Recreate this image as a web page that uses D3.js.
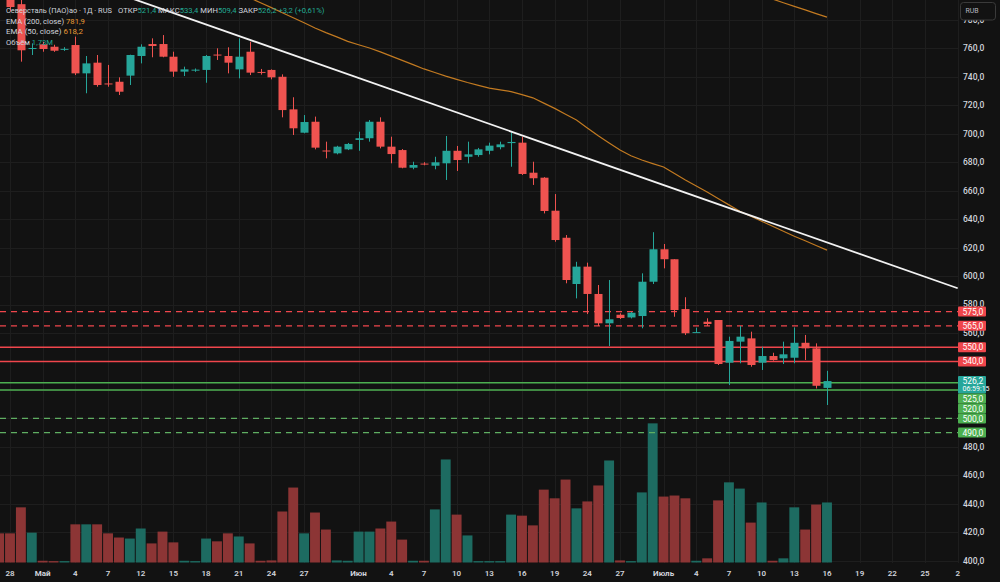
<!DOCTYPE html>
<html>
<head>
<meta charset="utf-8">
<script src="https://cdn.jsdelivr.net/npm/d3@7"></script>
<style>
  html, body { margin: 0; padding: 0; background: #121212; }
  svg { display: block; font-family: Roboto, "Noto Sans", sans-serif; }
  text { white-space: pre; }
</style>
</head>
<body>
<script>
// daily bars, index 0 = 27 Apr (only partly on screen)
const opens  = [812, 803, 791, 759.6, 762.8, 761.1, 759.2, 762.3, 742.4, 749.9, 735.3,
                736.5, 740.8, 754.6, 763, 763, 754.1, 743.6, 744.6, 744.8, 755.6,
                754.6, 745.2, 757.6, 743.4, 744.8, 740, 717.1, 700.7, 708.4, 688.2,
                686.2, 689, 695.6, 696.8, 708.4, 690.9, 688.5, 676.1, 679, 677.5,
                679.2, 688, 683.8, 685, 688, 690.5, 693.4, 693.7, 672.6, 669.1,
                645.9, 626.9, 594.4, 606.6, 587.4, 566.8, 572.8, 570.9, 571.9, 596,
                618.8, 611.8, 576.8, 560.2, 567.9, 569.1, 539.1, 553.9, 556.2, 539.1,
                543.8, 542.2, 542.6, 553.1, 549.2, 521.4];
const highs  = [816, 808, 794, 763.5, 764.6, 762.5, 760.8, 768.2, 754.6, 755.3, 748.3,
                739.6, 755.5, 762.8, 767, 769.3, 757.6, 747.1, 745.8, 755.3, 760,
                760.7, 767, 764.6, 745.5, 745.2, 741.7, 725.6, 713.1, 712, 694.4,
                691.5, 693.5, 701.4, 709.6, 711.5, 697.9, 689.2, 680.3, 680, 683.8,
                698.4, 691.4, 694.4, 690, 693.7, 694.4, 701, 697.9, 680.3, 669.5,
                657.6, 628.8, 610, 609.4, 593.7, 597.2, 573.8, 574.8, 601.9, 630.8,
                622.5, 611.8, 585.1, 563.7, 570.3, 569.1, 557.4, 564.9, 560.9, 550.3,
                546.1, 553.9, 563.9, 558.6, 552.7, 533.4];
const lows   = [796, 786, 750.6, 755.3, 757.6, 757.5, 758.2, 741.2, 728.4, 733, 733,
                727.2, 734.2, 749.4, 753.7, 753.7, 740, 740.5, 743.5, 735.8, 751.8,
                742.4, 738.9, 741.2, 741.5, 738.2, 711.5, 699.1, 700.3, 689, 682.7,
                685.5, 688.5, 688, 694.4, 689.7, 679.2, 675.7, 675, 677.8, 675,
                667.5, 673.8, 679.2, 683.8, 685.5, 689, 676.8, 671, 664, 644,
                624.1, 594.9, 584.3, 573.3, 564.9, 550.8, 569.8, 570.2, 563.3, 594.4,
                605.4, 571.4, 558.6, 560, 564.9, 537.5, 523.4, 538.7, 536.3, 534,
                540.5, 538.2, 538.7, 541, 521, 509.4];
const closes = [801, 789, 758.6, 760.2, 759.5, 758.3, 759.6, 742.4, 749.4, 734.2, 734.7,
                729.5, 755.3, 761.1, 761.6, 754.1, 743.6, 745.2, 745, 754.6, 755.1,
                749.9, 754.1, 742.9, 743, 739.6, 716.6, 703.8, 708.2, 690.2, 687.6,
                690.9, 692.8, 696.8, 708.4, 690.9, 685.7, 676.1, 678, 678.6, 679.9,
                688, 681.5, 685.5, 689, 691.6, 692.5, 694.2, 671.7, 668.7, 645.7,
                625.3, 597.2, 606.6, 587.4, 566.8, 569.6, 570.5, 574.2, 596, 618.8,
                611.8, 576.1, 559.8, 560.6, 566.3, 538.2, 554.4, 557.4, 537.5, 543.8,
                541, 545, 553.1, 549.2, 522.9, 526.2];
// volume, millions
const volumes = [0.84, 0.84, 1.59, 0.86, 0.05, 0.04, 0.04, 1.10, 1.10, 1.10, 0.84,
                 0.72, 0.69, 0.98, 0.55, 0.89, 0.58, 0.05, 0.04, 0.69, 0.61,
                 0.84, 0.75, 0.55, 0.05, 0.06, 1.47, 2.16, 0.84, 1.44, 0.95,
                 0.06, 0.05, 0.89, 0.89, 0.98, 1.18, 0.66, 0.05, 0.05, 1.53,
                 2.97, 1.38, 0.78, 0.04, 0.04, 0.04, 1.38, 1.35, 1.07, 2.10,
                 1.85, 2.39, 1.56, 1.76, 2.22, 2.94, 0.06, 0.04, 2.02, 4.01,
                 1.90, 1.93, 1.85, 0.05, 0.12, 1.79, 2.31, 2.13, 1.15, 1.73,
                 0.05, 0.12, 1.59, 0.95, 1.67, 1.73];

const tickIdx    = [1, 4, 7, 10, 13, 16, 19, 22, 25, 28, 33, 36, 39, 42, 45, 48, 51, 54, 57, 61, 64, 67, 70, 73, 76, 79, 82, 85, 88];
const tickLabels = ["28", "Май", "4", "7", "12", "15", "18", "21", "24", "27", "Июн", "4", "7", "10", "13", "16", "19", "24", "27", "Июль", "4", "7", "10", "13", "16", "19", "22", "25", "2"];
const monthTicks = ["Май", "Июн", "Июль"];

const priceTicks = [780, 760, 740, 720, 700, 680, 660, 640, 620, 600, 580, 560, 540, 520, 500, 480, 460, 440, 420, 400];

const ema50Start = 23;
const ema50 = [795.5, 792, 788.6, 785, 781.5, 777.9, 774.3, 771, 768, 764.9,
               762.5, 760.2, 757.5, 754.5, 751.5, 748.5, 745.5, 743, 740.5, 738.2,
               736, 734, 732, 730.8, 729.6, 727.5, 725.2, 721.5, 717.8, 713.7,
               709.6, 704, 698.5, 693.5, 688.5, 684.5, 681.5, 679, 676.6, 672,
               667.5, 663.3, 659, 654.5, 650, 645.5, 642, 638.5, 635, 631.5,
               628, 624.8, 621.5, 618.2];
const ema200Start = 69;
const ema200 = [800, 797.3, 794.6, 792, 789.5, 787, 784.4, 781.9];

const trendFrom = [11, 798.2];
const trendTo   = [88, 591.4];

const redDashed   = [575, 565];
const redSolid    = [550, 540];
const greenSolid  = [525, 520];
const greenDashed = [500, 490];

const lastPrice = 526.2;
const countdown = "06:59:15";

const W = 1000, H = 582;
const plotR = 958, plotB = 563;
const UP = "#26a69a", DOWN = "#ef5350";
const VUP = "#1d6b61", VDOWN = "#8c3535";
const LRED = "#f0464c", LGREEN = "#4caf50";
const TXT = "#d1d4dc";
const fmt = v => v.toFixed(1).replace(".", ",");

const svg = d3.select("body").append("svg")
    .attr("width", W)
    .attr("height", H);

svg.append("rect").attr("width", W).attr("height", H).attr("fill", "#121212");

svg.append("defs").append("clipPath").attr("id", "plot")
  .append("rect").attr("x", 0).attr("y", 0).attr("width", plotR).attr("height", plotB);

let x = d3.scaleLinear([1, 88], [10, 957.7]);
let y = d3.scaleLinear([400, 760], [560.7, 48.3]);
let yVol = d3.scaleLinear([0, 4], [562.5, 562.5 - 4 * 34.7]);
const step = x(1) - x(0);

// grid
const grid = svg.append("g").attr("stroke", "#1e1e1e").attr("stroke-width", 1);
grid.selectAll("line.h")
    .data(priceTicks)
    .join("line")
      .attr("x1", 0).attr("x2", plotR)
      .attr("y1", d => Math.round(y(d)) + 0.5)
      .attr("y2", d => Math.round(y(d)) + 0.5);
grid.selectAll("line.v")
    .data(tickIdx)
    .join("line")
      .attr("x1", d => Math.round(x(d)) + 0.5)
      .attr("x2", d => Math.round(x(d)) + 0.5)
      .attr("y1", 0).attr("y2", plotB);

const plot = svg.append("g").attr("clip-path", "url(#plot)");
const bars = d3.range(closes.length);

// volume
plot.append("g")
  .selectAll("rect")
  .data(bars)
  .join("rect")
    .attr("x", i => x(i) - step / 2 + 0.5)
    .attr("width", step - 1)
    .attr("y", i => yVol(volumes[i]))
    .attr("height", i => Math.max(1, yVol(0) - yVol(volumes[i])))
    .attr("fill", i => closes[i] >= opens[i] ? VUP : VDOWN);

// level lines
function levels(vals, color, dash, w) {
    plot.append("g").selectAll("line")
      .data(vals)
      .join("line")
        .attr("x1", 0).attr("x2", plotR)
        .attr("y1", d => y(d))
        .attr("y2", d => y(d))
        .attr("stroke", color)
        .attr("stroke-width", w)
        .attr("stroke-dasharray", dash);
}
levels(redDashed, LRED, "6,5", 1.2);
levels(redSolid, LRED, null, 1.5);
levels(greenSolid, LGREEN, null, 1.5);
levels(greenDashed, "#5fae62", "6,5", 1.2);

// candles
const candles = plot.append("g");
candles.selectAll("line")
    .data(bars)
    .join("line")
      .attr("x1", i => Math.round(x(i)) + 0.5)
      .attr("x2", i => Math.round(x(i)) + 0.5)
      .attr("y1", i => y(highs[i]))
      .attr("y2", i => y(lows[i]))
      .attr("stroke", i => closes[i] >= opens[i] ? UP : DOWN);
candles.selectAll("rect")
    .data(bars)
    .join("rect")
      .attr("x", i => Math.round(x(i)) - 3.5)
      .attr("width", 8)
      .attr("y", i => y(Math.max(opens[i], closes[i])))
      .attr("height", i => Math.max(1, Math.abs(y(opens[i]) - y(closes[i]))))
      .attr("fill", i => closes[i] >= opens[i] ? UP : DOWN);

// EMAs
const line = d3.line().x(d => x(d[0])).y(d => y(d[1]));
plot.append("path")
    .attr("d", line(ema50.map((v, k) => [ema50Start + k, v])))
    .attr("fill", "none").attr("stroke", "#c27a21").attr("stroke-width", 1.2);
plot.append("path")
    .attr("d", line(ema200.map((v, k) => [ema200Start + k, v])))
    .attr("fill", "none").attr("stroke", "#c27a21").attr("stroke-width", 1.2);

// trend line
plot.append("path")
    .attr("d", line([trendFrom, trendTo]))
    .attr("stroke", "#f2f2f2").attr("stroke-width", 1.8);

// time axis
svg.append("g")
    .attr("font-size", 8)
    .attr("fill", TXT)
    .attr("text-anchor", "middle")
  .selectAll("text")
  .data(tickIdx)
  .join("text")
    .attr("x", d => x(d))
    .attr("y", 575.5)
    .attr("font-weight", (d, k) => monthTicks.includes(tickLabels[k]) ? 700 : 600)
    .text((d, k) => tickLabels[k]);

// axis labels for levels, stacked so they do not overlap
const boxH = 10;
const tags = [];
redDashed.concat(redSolid).forEach(v => tags.push({v: v, c: LRED, lines: [fmt(v)]}));
tags.push({v: lastPrice, c: UP, lines: [fmt(lastPrice), countdown]});
greenSolid.concat(greenDashed).forEach(v => tags.push({v: v, c: LGREEN, lines: [fmt(v)]}));
let bottom = -Infinity;
for (const t of tags) {
    const h = boxH + (t.lines.length - 1) * 7.5;
    t.top = Math.max(y(t.v) - boxH / 2, bottom);
    t.h = h;
    bottom = t.top + h;
}

// price axis (ticks hidden where a level tag covers them)
const covered = v => tags.some(t => y(v) > t.top - 1 && y(v) < t.top + t.h + 1);
const pa = svg.append("g").attr("font-size", 8.5);
pa.selectAll("text")
    .data(priceTicks.filter(v => !covered(v)))
    .join("text")
      .attr("x", 963)
      .attr("y", d => y(d))
      .attr("dy", "0.35em")
      .attr("fill", TXT)
      .attr("font-weight", 500)
      .text(fmt);

const tg = pa.append("g");
tags.forEach(t => {
    tg.append("rect")
      .attr("x", 958).attr("y", t.top)
      .attr("width", 28).attr("height", t.h)
      .attr("rx", 1)
      .attr("fill", t.c);
    t.lines.forEach((s, k) => {
        tg.append("text")
          .attr("x", 962.5)
          .attr("y", t.top + boxH / 2 + k * 7.5 - (k ? 0.5 : 0))
          .attr("dy", "0.35em")
          .attr("fill", "#fff")
          .attr("font-size", k ? 7 : 8.5)
          .text(s);
    });
});

// currency box
svg.append("rect")
    .attr("x", 960.5).attr("y", 2.5).attr("width", 35).attr("height", 17.5)
    .attr("rx", 3)
    .attr("fill", "#121212").attr("stroke", "#3a3a3a");
svg.append("text")
    .attr("x", 972).attr("y", 11).attr("dy", "0.35em")
    .attr("text-anchor", "middle")
    .attr("font-size", 7).attr("fill", "#b2b5be")
    .text("RUB");

// legend: each row laid out left to right, font shrunk to fit its width
const VAL = "#22ab94", ORNG = "#e89a35";
const legendRows = [
    {x: 6,   y: 10,   len: 106, parts: [["Северсталь (ПАО)ао · 1Д · RUS", TXT]]},
    {x: 118, y: 10,   len: 207, parts: [["ОТКР", TXT], ["521,4", VAL], [" МАКС", TXT], ["533,4", VAL],
                                        [" МИН", TXT], ["509,4", VAL], [" ЗАКР", TXT], ["526,2", VAL],
                                        [" +3,2 (+0,61%)", VAL]]},
    {x: 6,   y: 21,   len: 79,  parts: [["EMA (200, close) ", TXT], ["781,9", ORNG]]},
    {x: 6,   y: 31.7, len: 77,  parts: [["EMA (50, close) ", TXT], ["618,2", ORNG]]},
    {x: 6,   y: 42.3, len: 47,  parts: [["Объём ", TXT], ["1,73M", VAL]]}
];
const lg = svg.append("g");
legendRows.forEach(r => {
    const row = lg.append("g");
    const items = r.parts.map(p => row.append("text")
        .attr("y", r.y).attr("dy", "0.35em")
        .attr("font-size", 8)
        .attr("fill", p[1])
        .text(p[0]));
    const total = d3.sum(items, t => t.node().getComputedTextLength());
    const fs = Math.min(8.5, 8 * r.len / total);
    let cx = r.x;
    items.forEach(t => {
        t.attr("font-size", fs).attr("x", cx);
        cx += t.node().getComputedTextLength();
    });
});
</script>
</body>
</html>
